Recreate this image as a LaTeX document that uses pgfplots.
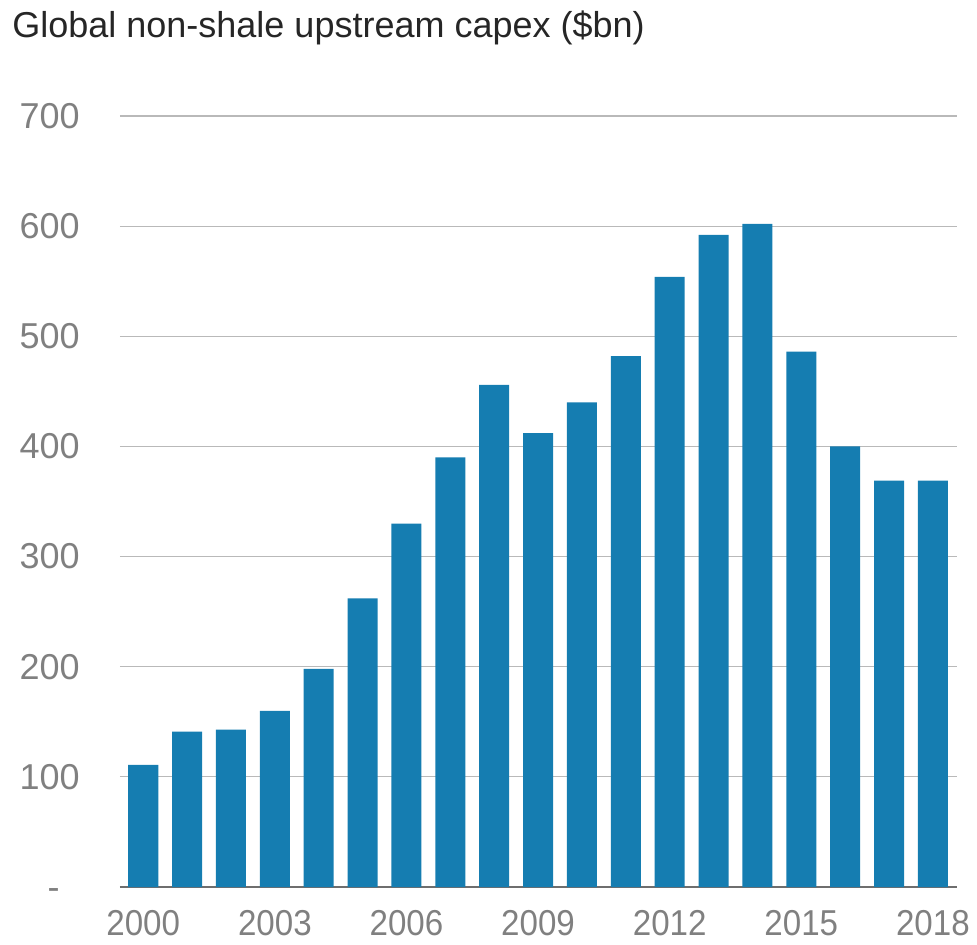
\documentclass[border=0pt]{standalone}
\usepackage{pgfplots}
\pgfplotsset{compat=1.18}
\usepackage{fontspec}
\setmainfont{Liberation Sans}
\newfontfamily\xtickfont[FakeStretch=0.92]{Liberation Sans}
\definecolor{barblue}{RGB}{21,125,177}
\definecolor{tickgray}{RGB}{128,128,128}
\definecolor{titlegray}{RGB}{38,38,38}
\definecolor{gridgray}{RGB}{185,185,185}
\definecolor{axisgray}{RGB}{110,110,110}
\begin{document}
\begin{tikzpicture}
\useasboundingbox (-60pt,-28.5pt) rectangle (428.5pt,443.5pt);
\begin{axis}[
  at={(0pt,0pt)}, anchor=south west,
  scale only axis, width=418.5pt, height=385.5pt,
  xmin=1999.47, xmax=2018.55, ymin=0, ymax=700,
  separate axis lines,
  axis x line*=bottom, axis y line*=left,
  y axis line style={draw=none},
  x axis line style={draw=axisgray, line width=1pt, -},
  major tick length=0pt,
  ytick={0,100,200,300,400,500,600,700},
  yticklabels={\raisebox{-6.4pt}[0pt][0pt]{-}\rule{10pt}{0pt},100,200,300,400,500,600,700},
  xtick={2000,2003,2006,2009,2012,2015,2018},
  xticklabels={2000,2003,2006,2009,2012,2015,2018},
  ymajorgrids, grid style={draw=gridgray, line width=0.6pt},
  tick label style={text=tickgray},
  yticklabel style={font=\fontsize{18}{20}\selectfont, inner sep=0pt, anchor=east, xshift=-20pt},
  xticklabel style={font=\xtickfont\fontsize{18}{20}\selectfont, inner sep=0pt, anchor=north, yshift=-11.5pt},
]
\addplot[ybar, bar width=15pt, fill=barblue, draw=none] coordinates {
(2000,111) (2001,141) (2002,143) (2003,160) (2004,198) (2005,262)
(2006,330) (2007,390) (2008,456) (2009,412) (2010,440) (2011,482)
(2012,554) (2013,592) (2014,602) (2015,486) (2016,400) (2017,369) (2018,369)
};
\end{axis}
\node[anchor=base west, inner sep=0pt, font=\fontsize{18}{20}\selectfont, text=titlegray] at (-54pt,424.5pt) {Global non-shale upstream capex (\$bn)};
\end{tikzpicture}
\end{document}
